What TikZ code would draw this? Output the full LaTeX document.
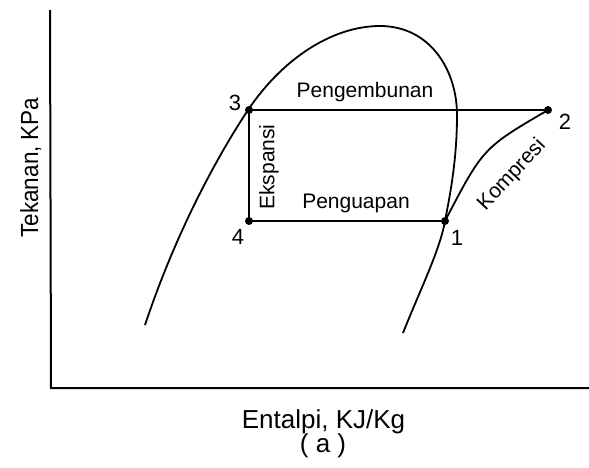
\documentclass[tikz,border=0pt]{standalone}
\usepackage{fontspec}
\setmainfont{Liberation Sans}
\begin{document}
\begin{tikzpicture}[x=1pt,y=-1pt,
  curve/.style={line width=1.8pt},
  cyc/.style={line width=1.8pt},
  axisline/.style={line width=2pt},
  dot/.style={circle,fill=black,inner sep=0pt,minimum size=8pt},
  lbl/.style={font=\fontsize{21}{21}\selectfont,inner sep=0pt},
  num/.style={font=\fontsize{22}{22}\selectfont,inner sep=0pt},
  axlbl/.style={font=\fontsize{26}{26}\selectfont,inner sep=0pt}]
\useasboundingbox (0,0) rectangle (589,467);
% axes
\coordinate (top) at (50,10);
\coordinate (origin) at (51,388);
\coordinate (right) at (589,388);
\draw[axisline] (top) -- (origin) -- (right);
% saturation dome
\draw[curve] (145,325) .. controls (175,235) and (215,160) .. (248,110)
  .. controls (283,58) and (333,26) .. (380,26)
  .. controls (430,26) and (457,70) .. (457,115)
  .. controls (457,160) and (450,195) .. (445,221)
  .. controls (440,250) and (420,290) .. (403,333);
% cycle points
\node[dot] (p3) at (249,110) {};
\node[dot] (p2) at (548,110) {};
\node[dot] (p4) at (249,221) {};
\node[dot] (p1) at (445,221) {};
\draw[cyc] (p3.center) -- (p2.center);
\draw[cyc] (p3.center) -- (p4.center) -- (p1.center);
\draw[cyc] (p1.center) .. controls (483,148) .. (p2.center);
% labels
\node[num] (n3) at (235,103) {3};
\node[num] (n2) at (565,122) {2};
\node[num] (n1) at (457,238) {1};
\node[num] (n4) at (238,237) {4};
\node[lbl] (cond) at (365,92) {Pengembunan};
\node[lbl] (evap) at (356,203) {Penguapan};
\node[lbl,rotate=90] (exp) at (269,167) {Ekspansi};
\node[lbl,rotate=47] (comp) at (512,175) {Kompresi};
\node[font=\fontsize{22.5}{22.5}\selectfont,inner sep=0pt,rotate=90,anchor=base] (ylab) at (38,167.5) {\scalebox{1}[1.1]{Tekanan, KPa}};
\node[axlbl,anchor=base] (xlab) at (323.5,428) {Entalpi, KJ/Kg};
\node[axlbl,anchor=base] (cap) at (323,452) {( a )};
\end{tikzpicture}
\end{document}
